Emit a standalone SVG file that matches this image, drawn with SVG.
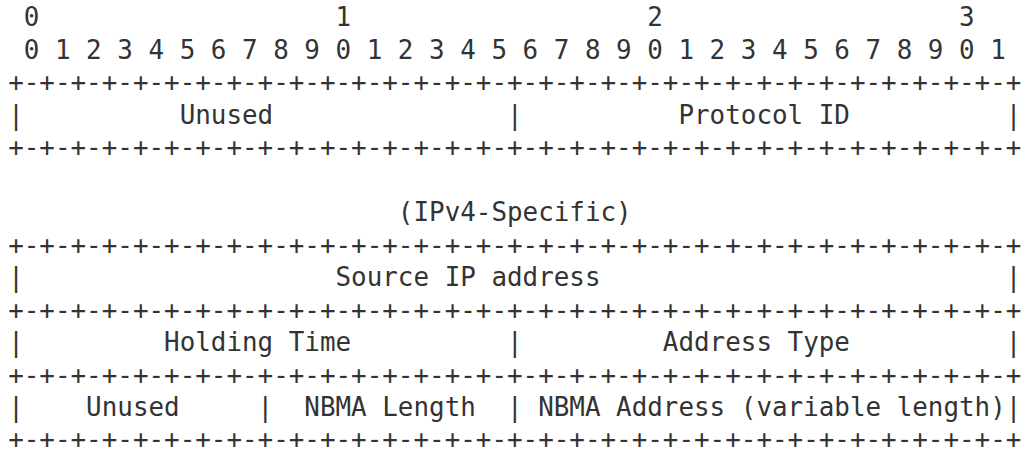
<svg xmlns="http://www.w3.org/2000/svg" width="1023" height="452" viewBox="0 0 1023 452" xml:space="preserve">
  <style>
    .t { font-family: "DejaVu Sans Mono", "Liberation Mono", monospace; font-size: 25.9px; fill: #333333; white-space: pre; }
  </style>
  <rect x="0" y="0" width="1023" height="452" fill="#ffffff"/>
  <!-- bit ruler -->
  <g id="ruler">
    <text class="t" x="8.2" y="26.2"> 0                   1                   2                   3</text>
    <text class="t" x="8.2" y="58.7"> 0 1 2 3 4 5 6 7 8 9 0 1 2 3 4 5 6 7 8 9 0 1 2 3 4 5 6 7 8 9 0 1</text>
  </g>
  <!-- first word: Unused / Protocol ID -->
  <g id="common-header">
    <text class="t" x="8.2" y="91.2">+-+-+-+-+-+-+-+-+-+-+-+-+-+-+-+-+-+-+-+-+-+-+-+-+-+-+-+-+-+-+-+-+</text>
    <text class="t" x="8.2" y="123.6">|          Unused               |          Protocol ID          |</text>
    <text class="t" x="8.2" y="156.1">+-+-+-+-+-+-+-+-+-+-+-+-+-+-+-+-+-+-+-+-+-+-+-+-+-+-+-+-+-+-+-+-+</text>
  </g>
  <!-- IPv4-specific part -->
  <g id="ipv4-specific">
    <text class="t" x="8.2" y="221.1">                         (IPv4-Specific)</text>
    <text class="t" x="8.2" y="253.6">+-+-+-+-+-+-+-+-+-+-+-+-+-+-+-+-+-+-+-+-+-+-+-+-+-+-+-+-+-+-+-+-+</text>
    <text class="t" x="8.2" y="286.0">|                    Source IP address                          |</text>
    <text class="t" x="8.2" y="318.5">+-+-+-+-+-+-+-+-+-+-+-+-+-+-+-+-+-+-+-+-+-+-+-+-+-+-+-+-+-+-+-+-+</text>
    <text class="t" x="8.2" y="351.0">|         Holding Time          |         Address Type          |</text>
    <text class="t" x="8.2" y="383.5">+-+-+-+-+-+-+-+-+-+-+-+-+-+-+-+-+-+-+-+-+-+-+-+-+-+-+-+-+-+-+-+-+</text>
    <text class="t" x="8.2" y="415.9">|    Unused     |  NBMA Length  | NBMA Address (variable length)|</text>
    <text class="t" x="8.2" y="448.4">+-+-+-+-+-+-+-+-+-+-+-+-+-+-+-+-+-+-+-+-+-+-+-+-+-+-+-+-+-+-+-+-+</text>
  </g>
</svg>
